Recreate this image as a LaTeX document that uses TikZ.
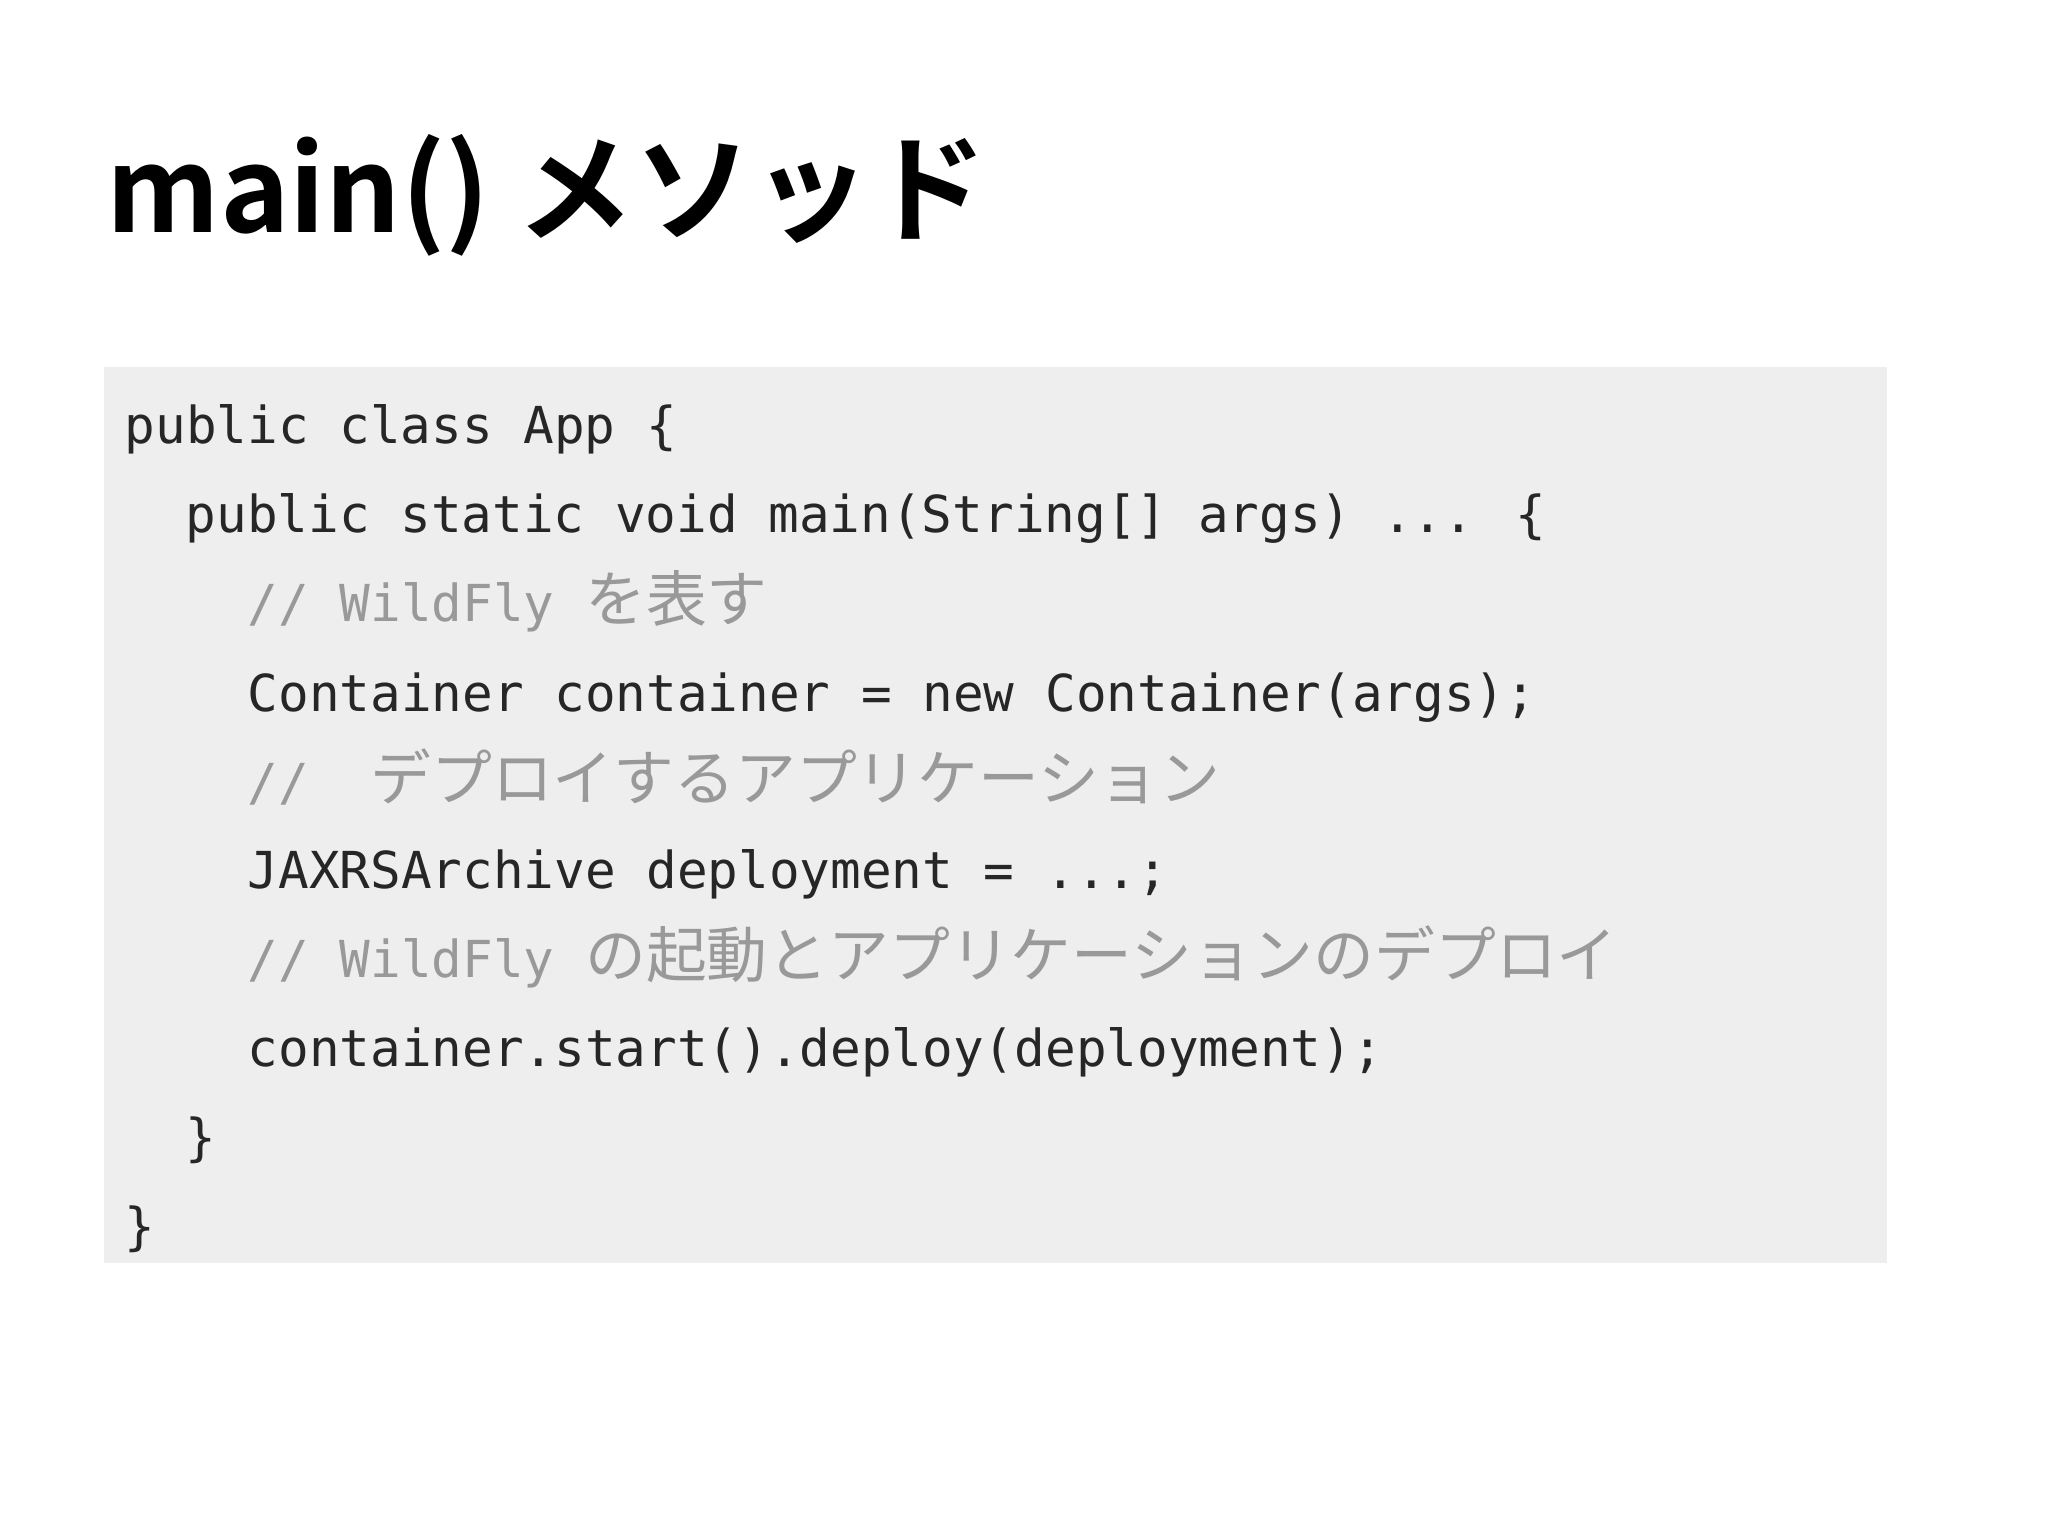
\documentclass[tikz,border=0pt]{standalone}
\usepackage{fontspec}
\setmainfont{Noto Sans CJK JP}
\newfontfamily\cjk{Noto Sans CJK JP}
\newfontfamily\titlefont{Noto Sans CJK JP Bold}
\newfontfamily\mono{DejaVu Sans Mono}
\definecolor{boxgray}{HTML}{EEEEEE}
\definecolor{cmtgray}{HTML}{999999}
\begin{document}
\begin{tikzpicture}[x=0.1mm,y=-0.1mm,
  codeline/.style={anchor=base west,inner sep=0pt,font=\mono\fontsize{14.5pt}{16pt}\selectfont,text=black!85},
  cmt/.style={codeline,text=cmtgray}]
\useasboundingbox[fill=white] (0,0) rectangle (2048,1535);
\node[anchor=base west,inner sep=0pt,font=\titlefont\fontsize{33.5pt}{40pt}\selectfont] (title) at (106,233) {main() メソッド};
\fill[boxgray] (104,367) rectangle (1887,1263);
\def\cj#1{{\cjk\fontsize{17.3pt}{19pt}\selectfont #1}}
\node[codeline] (l1) at (124,444) {public class App \{};
\node[codeline] (l2) at (185,533) {public static void main(String[] args) ... \{};
\node[cmt] (l3) at (247,622) {//~WildFly~\cj{を表す}};
\node[codeline] (l4) at (247,711) {Container container = new Container(args);};
\node[cmt] (l5) at (247,800) {//~~\cj{デプロイするアプリケーション}};
\node[codeline] (l6) at (247,888) {JAXRSArchive deployment = ...;};
\node[cmt] (l7) at (247,977) {//~WildFly~\cj{の起動とアプリケーションのデプロイ}};
\node[codeline] (l8) at (247,1066) {container.start().deploy(deployment);};
\node[codeline] (l9) at (185,1155) {\}};
\node[codeline] (l10) at (124,1244) {\}};
\end{tikzpicture}
\end{document}
